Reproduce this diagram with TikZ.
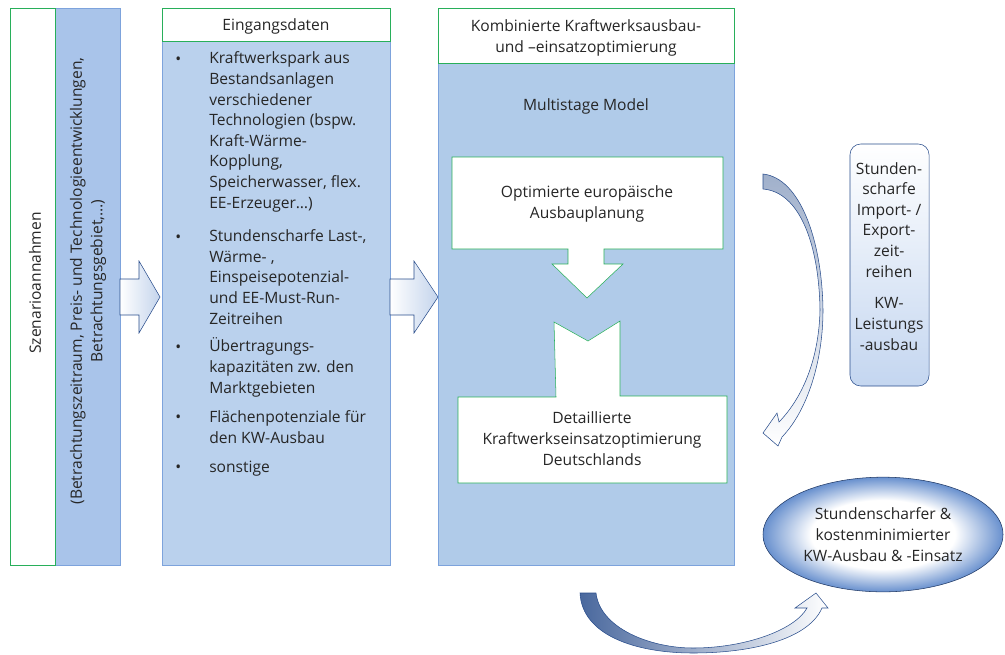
\documentclass[tikz,border=0pt]{standalone}
\usepackage{fontspec}
\setmainfont{Open Sans}
\usepackage{xcolor}
\usepackage{tikz}
\usetikzlibrary{positioning, shapes, calc, shadings}
\definecolor{kwgreen}{RGB}{40,175,90}
\definecolor{panelA}{RGB}{169,196,234}
\definecolor{panelB}{RGB}{186,209,237}
\definecolor{panelC}{RGB}{176,203,233}
\definecolor{paneledge}{RGB}{125,163,220}
\definecolor{arrowedge}{RGB}{41,77,140}
\definecolor{arrowfill}{RGB}{196,212,236}
\definecolor{boxblue}{RGB}{196,214,240}
\definecolor{ellblue}{RGB}{104,144,206}
\definecolor{elledge}{RGB}{31,56,100}
\definecolor{curvegray}{RGB}{160,176,203}
\definecolor{textgray}{RGB}{38,38,38}
\pgfdeclareradialshading{ellshade}{\pgfpoint{0bp}{0bp}}{color(0bp)=(white); color(15bp)=(white); color(25bp)=(ellblue); color(50bp)=(ellblue)}

\begin{document}
\begin{tikzpicture}[x=0.75pt, y=-0.75pt, every node/.style={font=\fontsize{11.7}{15.45}\selectfont, text=textgray, inner sep=0pt}]
			\tikzstyle{weiss}=[draw=kwgreen, fill=white]
			\tikzstyle{blau}=[draw=paneledge]
			\tikzstyle{pfeil}=[draw=arrowedge, left color=white, right color=arrowfill]
			\tikzstyle{txt}=[anchor=base, align=center]
			\tikzstyle{punkt}=[anchor=base west, align=left]
			
			\useasboundingbox (0,0) rectangle (1005,654);
			
			%% Szenarioannahmen
			\draw [blau, fill=panelA] (55,8) rectangle (120,565);
			\draw [weiss] (10,8) rectangle (55,565);
			\node (szen) at (35,283) [rotate=90] {Szenarioannahmen};
			\node (annahmen) at (88,281) [rotate=90, align=center] {(Betrachtungszeitraum, Preis- und Technologieentwicklungen,\\Betrachtungsgebiet,…)};
			
			\draw [pfeil] (120,279) -- (139,279) -- (139,261) -- (160,297) -- (139,333) -- (139,315) -- (120,315) -- cycle;
			
			%% Eingangsdaten (base = letzte Zeile)
			\draw [blau, fill=panelB] (162,41) rectangle (390,565);
			\draw [weiss] (162,8) rectangle (390,41);
			\node (eingang) at (276,30) [txt] {Eingangsdaten};
			
			\node (b1) at (175,64) [punkt] {\textbullet};
			\node (b2) at (175,242) [punkt] {\textbullet};
			\node (b3) at (175,352) [punkt] {\textbullet};
			\node (b4) at (175,422) [punkt] {\textbullet};
			\node (b5) at (175,472) [punkt] {\textbullet};
			\node (i1) at (209,208) [punkt] {Kraftwerkspark aus\\Bestandsanlagen\\verschiedener\\Technologien (bspw.\\Kraft-Wärme-\\Kopplung,\\Speicherwasser, flex.\\EE-Erzeuger…)};
			\node (i2) at (209,324) [punkt] {Stundenscharfe Last-,\\Wärme- ,\\Einspeisepotenzial-\\und EE-Must-Run-\\Zeitreihen};
			\node (i3) at (209,393) [punkt] {Übertragungs-\\kapazitäten zw. den\\Marktgebieten};
			\node (i4) at (209,443) [punkt] {Flächenpotenziale für\\den KW-Ausbau};
			\node (i5) at (209,472) [punkt] {sonstige};
			
			\draw [pfeil] (390,279) -- (414,279) -- (414,261) -- (438,297) -- (414,333) -- (414,315) -- (390,315) -- cycle;
			
			%% Kombinierte Optimierung
			\draw [blau, fill=panelC] (438,63) rectangle (734,565);
			\draw [weiss] (438,8) rectangle (734,63);
			\node (kombi) at (586,52) [txt] {Kombinierte Kraftwerksausbau-\\und –einsatzoptimierung};
			\node (multi) at (586,110) [txt] {Multistage Model};
			
			\draw [weiss] (452,157) -- (723,157) -- (723,249) -- (604,249) -- (604,264) -- (623,264) -- (587,298) -- (552,264) -- (568,264) -- (568,249) -- (452,249) -- cycle;
			\node (europa) at (587,218) [txt] {Optimierte europäische\\Ausbauplanung};
			
			\draw [weiss] (458,397) -- (556,397) -- (554,322) -- (588,341) -- (620,321) -- (620,396) -- (727,396) -- (727,483) -- (458,483) -- cycle;
			\node (deutsch) at (592,465) [txt] {Detaillierte\\Kraftwerkseinsatzoptimierung\\Deutschlands};
			
			%% Zeitreihen
			\draw [draw=arrowedge, top color=white, middle color=white, bottom color=boxblue, rounded corners=8] (850,144) rectangle (929,386);
			\node (stunden) at (889,277) [txt] {Stunden-\\scharfe\\Import- /\\Export-\\zeit-\\reihen};
			\node (leistung) at (889,350) [txt] {KW-\\Leistungs\\-ausbau};
			
			\draw [draw=arrowedge, top color=curvegray, bottom color=white] (763,174) .. controls (800,178) and (822,240) .. (823,310) .. controls (823,360) and (808,410) .. (782,437) -- (778,446) -- (763,433) -- (777,413) -- (779,422) .. controls (805,395) and (819,355) .. (820,310) .. controls (819,245) and (800,192) .. (763,189) -- cycle;
			
			%% Ergebnis
			\node (ergebnis) at (883,534.5) [ellipse, draw=elledge, shading=ellshade, minimum width=180pt, minimum height=86pt, align=center] {Stundenscharfer \&\\kostenminimierter\\KW-Ausbau \& -Einsatz};
			
			\draw [draw=arrowedge, left color=arrowedge!85, middle color=gray!35, right color=white] (580,593) -- (596,593) .. controls (600,628) and (650,648) .. (693,648) .. controls (745,648) and (795,630) .. (807,608) -- (795,608) -- (816,593) -- (828,608) -- (822,608) .. controls (808,640) and (750,653) .. (693,653) .. controls (635,653) and (582,635) .. (580,593) -- cycle;
\end{tikzpicture}
\end{document}
